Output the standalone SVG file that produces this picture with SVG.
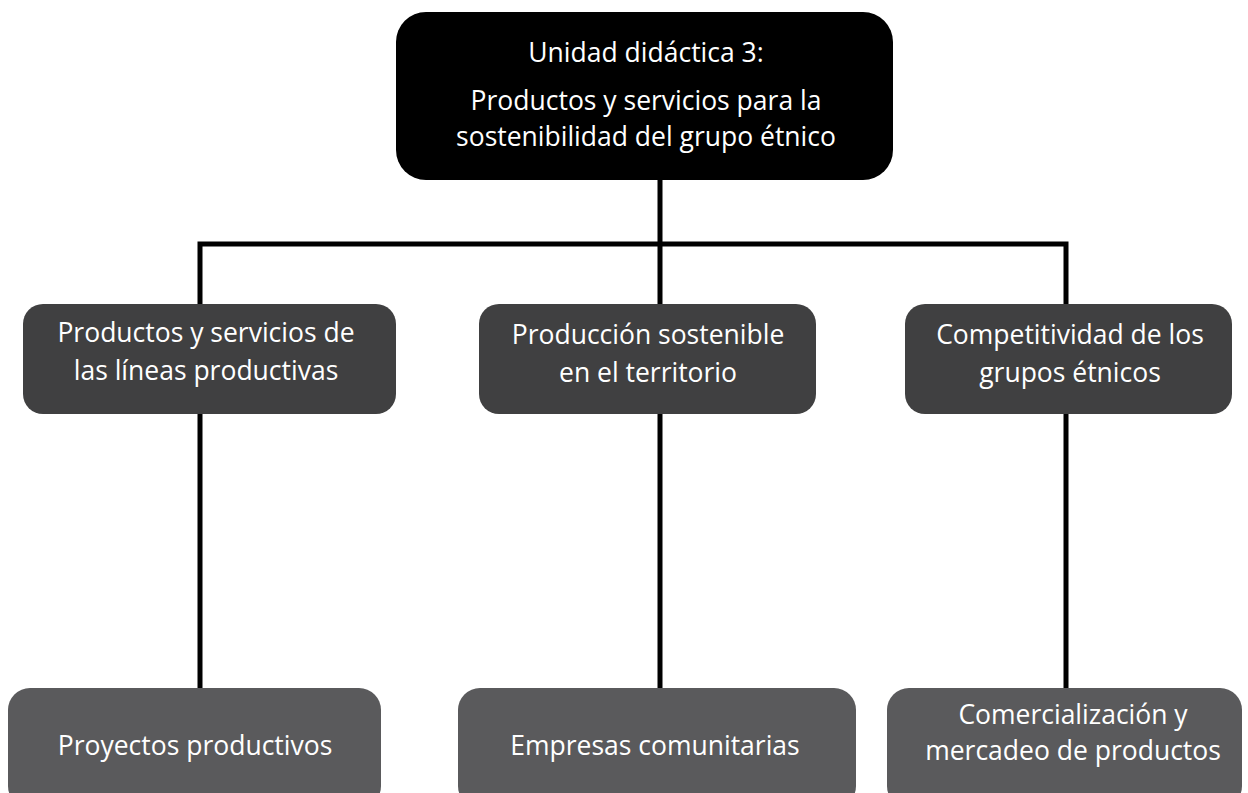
<svg xmlns="http://www.w3.org/2000/svg" width="1248" height="793" viewBox="0 0 1248 793">
<style>
.t{font-family:"Open Sans","Noto Sans",sans-serif;font-size:26.5px;fill:#ffffff;text-anchor:middle}
.mid{fill:#404041}
.bot{fill:#5a5a5c}
.ln{stroke:#000;stroke-width:5;fill:none}
</style>
<rect width="1248" height="793" fill="#fff"/>
<g id="connectors">
<path class="ln" d="M660 180V304M200 244H1066M200 241.5V304M1066 241.5V304M200 414V688M660 414V688M1066 414V688"/>
</g>
<g id="top">
<rect x="396" y="12" width="497" height="168" rx="30" fill="#000"/>
<text class="t" x="646" y="62">Unidad didáctica 3:</text>
<text class="t" x="646" y="110">Productos y servicios para la</text>
<text class="t" x="646" y="146">sostenibilidad del grupo étnico</text>
</g>
<g id="n1">
<rect class="mid" x="23" y="304" width="373" height="110" rx="20"/>
<text class="t" x="206" y="342">Productos y servicios de</text>
<text class="t" x="206" y="380">las líneas productivas</text>
</g>
<g id="n2">
<rect class="mid" x="479" y="304" width="337" height="110" rx="20"/>
<text class="t" x="648" y="344">Producción sostenible</text>
<text class="t" x="648" y="382">en el territorio</text>
</g>
<g id="n3">
<rect class="mid" x="905" y="304" width="327" height="110" rx="20"/>
<text class="t" x="1070" y="344">Competitividad de los</text>
<text class="t" x="1070" y="382">grupos étnicos</text>
</g>
<g id="b1">
<rect class="bot" x="8" y="688" width="373" height="120" rx="22"/>
<text class="t" x="195" y="755">Proyectos productivos</text>
</g>
<g id="b2">
<rect class="bot" x="458" y="688" width="398" height="120" rx="22"/>
<text class="t" x="655" y="755">Empresas comunitarias</text>
</g>
<g id="b3">
<rect class="bot" x="887" y="688" width="355" height="120" rx="22"/>
<text class="t" x="1073" y="724">Comercialización y</text>
<text class="t" x="1073" y="760">mercadeo de productos</text>
</g>
</svg>
